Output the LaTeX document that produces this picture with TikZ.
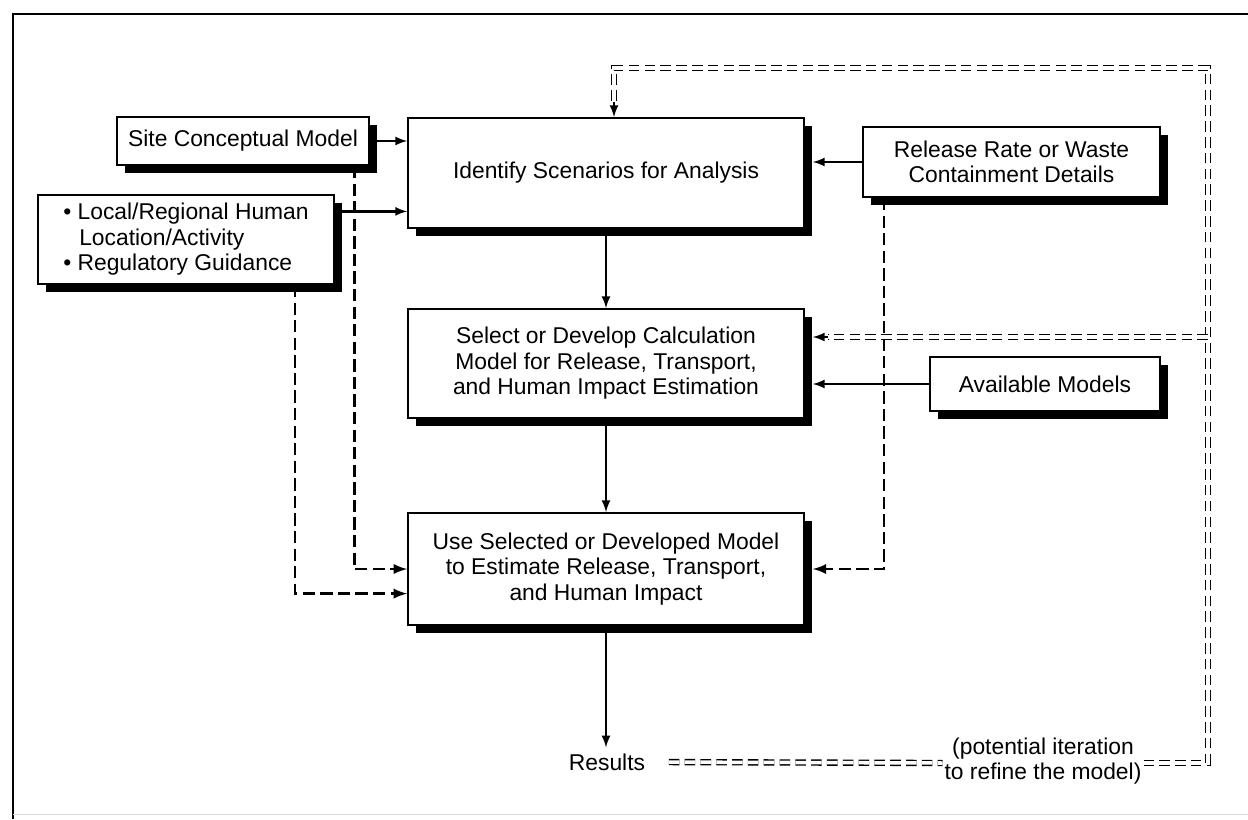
\documentclass[tikz,border=0pt]{standalone}
\usepackage{fontspec}
\setmainfont{Liberation Sans}
\usetikzlibrary{arrows, shadows, positioning}

\begin{document}
\begin{tikzpicture}[x=0.02cm, y=-0.02cm, >=latex,
    font=\fontsize{13}{14.5}\selectfont,
    box/.style={draw, line width=1.1pt, fill=white, align=center, inner sep=2pt,
      drop shadow={shadow xshift=4.5pt, shadow yshift=-4.5pt, opacity=1, fill=black}},
    flow/.style={->, line width=1.3pt},
    side/.style={->, line width=1.6pt, dash pattern=on 7pt off 3pt},
    fb/.style={double, double distance=2pt, line width=0.8pt, dash pattern=on 6pt off 3pt}]
                    \useasboundingbox (0,0) rectangle (1248,819);
                    \draw[line width=1.6pt] (13,819) -- (13,14) -- (1248,14);
                    \draw[black!15] (13,814) -- (1248,814);

                    \node[box, minimum width=5.04cm, minimum height=0.96cm] (site) at (243,141) {Site Conceptual Model};
                    \node[box, minimum width=5.92cm, minimum height=1.78cm, align=left] (local) at (186,239.5)
                        {\textbullet\ Local/Regional Human\\\hspace{0.7em}Location/Activity\\\textbullet\ Regulatory Guidance};
                    \node[box, minimum width=7.92cm, minimum height=2.2cm] (ident) at (606,173) {Identify Scenarios for Analysis};
                    \node[box, minimum width=5.94cm, minimum height=1.4cm] (release) at (1011.5,162) {Release Rate or Waste\\Containment Details};
                    \node[box, minimum width=7.92cm, minimum height=2.18cm] (select) at (606,363.5)
                        {Select or Develop Calculation\\Model for Release, Transport,\\and Human Impact Estimation};
                    \node[box, minimum width=4.6cm, minimum height=1.08cm] (avail) at (1045,384) {Available Models};
                    \node[box, minimum width=7.92cm, minimum height=2.24cm] (use) at (606,569)
                        {Use Selected or Developed Model\\to Estimate Release, Transport,\\and Human Impact};
                    \node (res) at (607,762) {Results};
                    \node[align=center, inner sep=1pt] (iter) at (1043,761)
                        {(potential iteration\\to refine the model)};

                    % shadow edges and corners of the feedback loop
                    \coordinate (identr) at ([xshift=4.5pt]ident.east);
                    \coordinate (selectr) at ([xshift=4.5pt]select.east);
                    \coordinate (user) at ([xshift=4.5pt]use.east);
                    \coordinate (fbbr) at (1208,763);
                    \coordinate (fbtr) at (1208,68);
                    \coordinate (fbtl) at (614,68);
                    \coordinate (fbend) at (614,102);
                    \coordinate (fbmr) at (1208,337);
                    \coordinate (fbmid) at (828,337);

                    \draw[flow]
                    (site.east) -- (site.east -| ident.west);
                    \draw[flow] ([yshift=16pt]local.east) coordinate (l1) -- (l1 -| ident.west);
                    \draw[flow] (release.west) -- (identr |- release.west);
                    \draw[flow] (avail.west) -- (selectr |- avail.west);
                    \draw[flow] (ident) -- (select);
                    \draw[flow] (select) -- (use);
                    \draw[flow] (use.south) -- (use.south |- res.north);

                    \draw[side] ([xshift=-9pt]site.south east) |- (use.west);
                    \draw[side] ([xshift=-22.7pt]local.south east) |- ([yshift=-14pt]use.west);
                    \draw[side] ([xshift=12.5pt]release.south west) |- (user);

                    \draw[fb, shorten <=10pt] (res.east) -- (iter.west |- fbbr);
                    \draw[fb] (iter.east |- fbbr) -- (fbbr) -- (fbtr) -- (fbtl) -- (fbend);
                    \draw[flow] (fbend) -- (fbend |- ident.north);
                    \draw[fb] (fbmr) -- (fbmid);
                    \draw[flow] (fbmid) -- (selectr |- fbmid);
                \end{tikzpicture}
\end{document}
